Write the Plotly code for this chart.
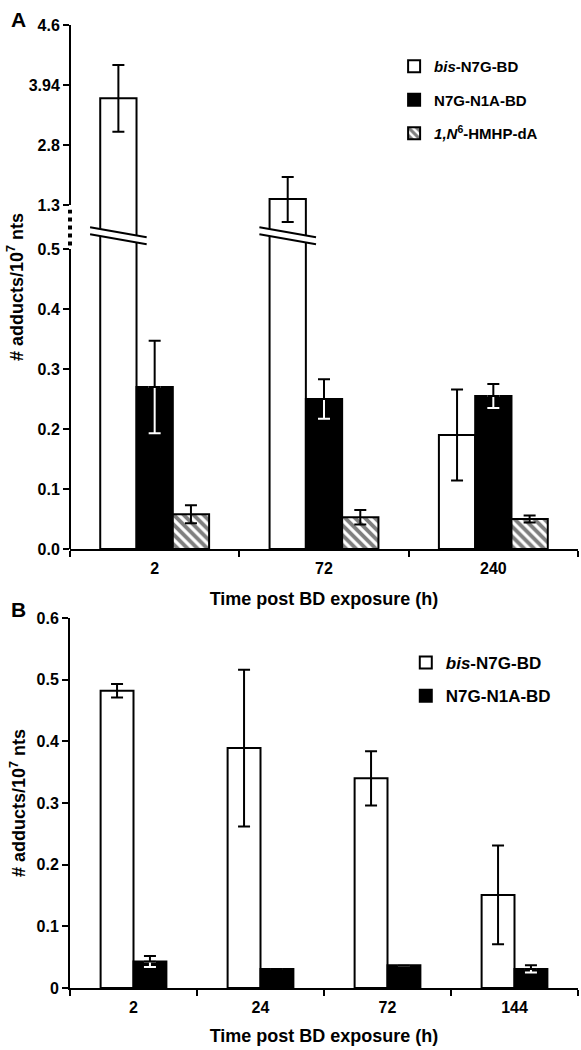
import numpy as np
import plotly.graph_objects as go

# ---------------- Panel A data ----------------
A_TIMES = ["2", "72", "240"]
A_BIS = [3.69, 1.45, 0.19]
A_BIS_ERR_HI = [0.47, 0.55, 0.076]
A_BIS_ERR_LO = [0.64, 0.46, 0.076]
A_N7G = [0.27, 0.25, 0.255]
A_N7G_ERR = [0.077, 0.033, 0.020]
A_HMHP = [0.058, 0.053, 0.050]
A_HMHP_ERR = [0.015, 0.012, 0.006]
A_TICK_VALUES = [0.0, 0.1, 0.2, 0.3, 0.4, 0.5, 1.3, 2.8, 3.94, 4.6]
A_TICK_LABELS = ["0.0", "0.1", "0.2", "0.3", "0.4", "0.5", "1.3", "2.8", "3.94", "4.6"]

# ---------------- Panel B data ----------------
B_TIMES = ["2", "24", "72", "144"]
B_BIS = [0.482, 0.389, 0.340, 0.151]
B_BIS_ERR = [0.011, 0.127, 0.044, 0.080]
B_N7G = [0.043, 0.031, 0.037, 0.031]
B_N7G_ERR = [0.009, 0.0, 0.0, 0.006]
B_TICK_VALUES = [0.0, 0.1, 0.2, 0.3, 0.4, 0.5, 0.6]
B_TICK_LABELS = ["0", "0.1", "0.2", "0.3", "0.4", "0.5", "0.6"]

NAMES = ["<i>bis</i>-N7G-BD", "N7G-N1A-BD", "<i>1,N</i><sup>6</sup>-HMHP-dA"]

# ---------------- segmented (broken) axis scale for panel A ----------------
BREAK_AT = 0.5
GAP = 44 / 600.0
UPPER_STEP = 0.1
lower = [v for v in A_TICK_VALUES if v <= BREAK_AT]
upper = [v for v in A_TICK_VALUES if v > BREAK_AT]
A_TICK_POS = lower + [BREAK_AT + GAP + i * UPPER_STEP for i in range(len(upper))]


def seg(v):
    return np.interp(np.asarray(v, dtype=float), A_TICK_VALUES, A_TICK_POS)


def seg_err(vals, hi, lo):
    vals = np.asarray(vals, float)
    p = seg(vals)
    return p, seg(vals + np.asarray(hi, float)) - p, p - seg(vals - np.asarray(lo, float))


FONT = "Liberation Sans, Arial, sans-serif"
LW = 2
CAP = 6
HATCH = dict(shape="\\", fgcolor="black", bgcolor="white", size=7, solidity=0.55)

fig = go.Figure()

# ---------- Panel A ----------
wA = 0.2143
offA = [-1.5 * wA, -0.5 * wA, 0.5 * wA]

y, ehi, elo = seg_err(A_BIS, A_BIS_ERR_HI, A_BIS_ERR_LO)
fig.add_trace(go.Bar(x=A_TIMES, y=y, width=wA, offset=offA[0], name=NAMES[0],
                     legendgroup="a0", legend="legend",
                     marker=dict(color="white", line=dict(color="black", width=LW)),
                     error_y=dict(type="data", symmetric=False, array=ehi, arrayminus=elo,
                                  color="black", thickness=LW, width=CAP),
                     xaxis="x", yaxis="y"))

y, ehi, elo = seg_err(A_N7G, A_N7G_ERR, A_N7G_ERR)
fig.add_trace(go.Bar(x=A_TIMES, y=y, width=wA, offset=offA[1], name=NAMES[1],
                     legendgroup="a1", legend="legend",
                     marker=dict(color="black", line=dict(color="black", width=LW)),
                     xaxis="x", yaxis="y"))
fig.add_trace(go.Bar(x=A_TIMES, y=y, width=wA, offset=offA[1], showlegend=False,
                     marker=dict(color="rgba(0,0,0,0)", line=dict(width=0)),
                     error_y=dict(type="data", symmetric=False, array=[0] * 3, arrayminus=elo,
                                  color="white", thickness=LW, width=CAP),
                     xaxis="x", yaxis="y", hoverinfo="skip"))
fig.add_trace(go.Bar(x=A_TIMES, y=y, width=wA, offset=offA[1], showlegend=False,
                     marker=dict(color="rgba(0,0,0,0)", line=dict(width=0)),
                     error_y=dict(type="data", symmetric=False, array=ehi, arrayminus=[0] * 3,
                                  color="black", thickness=LW, width=CAP),
                     xaxis="x", yaxis="y", hoverinfo="skip"))

y, ehi, elo = seg_err(A_HMHP, A_HMHP_ERR, A_HMHP_ERR)
fig.add_trace(go.Bar(x=A_TIMES, y=y, width=wA, offset=offA[2], name=NAMES[2],
                     legendgroup="a2", legend="legend",
                     marker=dict(color="white", line=dict(color="black", width=LW), pattern=HATCH),
                     error_y=dict(type="data", symmetric=False, array=ehi, arrayminus=elo,
                                  color="black", thickness=LW, width=CAP),
                     xaxis="x", yaxis="y"))

# ---------- Panel B ----------
wB = 0.259
offB = [-wB, 0.0]
fig.add_trace(go.Bar(x=B_TIMES, y=B_BIS, width=wB, offset=offB[0], name=NAMES[0],
                     legendgroup="b0", legend="legend2",
                     marker=dict(color="white", line=dict(color="black", width=LW)),
                     error_y=dict(type="data", array=B_BIS_ERR, color="black", thickness=LW, width=CAP),
                     xaxis="x2", yaxis="y2"))
fig.add_trace(go.Bar(x=B_TIMES, y=B_N7G, width=wB, offset=offB[1], name=NAMES[1],
                     legendgroup="b1", legend="legend2",
                     marker=dict(color="black", line=dict(color="black", width=LW)),
                     xaxis="x2", yaxis="y2"))
fig.add_trace(go.Bar(x=B_TIMES, y=B_N7G, width=wB, offset=offB[1], showlegend=False,
                     marker=dict(color="rgba(0,0,0,0)", line=dict(width=0)),
                     error_y=dict(type="data", symmetric=False, array=[0] * 4, arrayminus=B_N7G_ERR,
                                  color="white", thickness=LW, width=CAP),
                     xaxis="x2", yaxis="y2", hoverinfo="skip"))
fig.add_trace(go.Bar(x=B_TIMES, y=B_N7G, width=wB, offset=offB[1], showlegend=False,
                     marker=dict(color="rgba(0,0,0,0)", line=dict(width=0)),
                     error_y=dict(type="data", symmetric=False, array=B_N7G_ERR, arrayminus=[0] * 4,
                                  color="black", thickness=LW, width=CAP),
                     xaxis="x2", yaxis="y2", hoverinfo="skip"))

# ---------- shapes: broken y axis and break marks ----------
shapes = []
top = A_TICK_POS[-1]
shapes.append(dict(type="line", xref="x domain", yref="y", x0=0, x1=0, y0=0, y1=BREAK_AT,
                   line=dict(color="black", width=LW)))
shapes.append(dict(type="line", xref="x domain", yref="y", x0=0, x1=0,
                   y0=BREAK_AT + 0.006, y1=BREAK_AT + GAP - 0.008,
                   line=dict(color="black", width=4, dash="dot")))
shapes.append(dict(type="line", xref="x domain", yref="y", x0=0, x1=0, y0=BREAK_AT + GAP, y1=top,
                   line=dict(color="black", width=LW)))

yc = BREAK_AT + 0.3 * GAP
dy = 10 / 600.0
sep = 7 / 600.0
ext = 0.06
for i, v in enumerate(A_BIS):
    if v > BREAK_AT:
        x0 = i + offA[0] - ext
        x1 = i + offA[0] + wA + ext
        ya0, ya1 = yc + dy / 2 + sep / 2, yc - dy / 2 + sep / 2
        yb0, yb1 = ya0 - sep, ya1 - sep
        shapes.append(dict(type="path", xref="x", yref="y",
                           path=f"M{x0},{ya0} L{x1},{ya1} L{x1},{yb1} L{x0},{yb0} Z",
                           fillcolor="white", line=dict(width=0)))
        shapes.append(dict(type="line", xref="x", yref="y", x0=x0, y0=ya0, x1=x1, y1=ya1,
                           line=dict(color="black", width=LW)))
        shapes.append(dict(type="line", xref="x", yref="y", x0=x0, y0=yb0, x1=x1, y1=yb1,
                           line=dict(color="black", width=LW)))

tickfont = dict(family=FONT, size=16, color="black", weight="bold")
titlefont = dict(family=FONT, size=18, color="black", weight="bold")
ytitle = "# adducts/10<sup>7</sup> nts"
xtitle = "Time post BD exposure (h)"

H, W = 1050, 581
ml, mr, mt, mb = 70, 3, 25, 62
ph = H - mt - mb
domA = [(H - mb - 549) / ph, 1.0]
domB = [0.0, (H - mb - 618) / ph]

common_x = dict(showline=True, linewidth=LW, linecolor="black", ticks="outside", ticklen=6,
                tickwidth=LW, tickcolor="black", tickson="boundaries", showgrid=False,
                zeroline=False, tickfont=tickfont, type="category", ticklabelstandoff=4)

fig.update_layout(
    width=W, height=H, margin=dict(l=ml, r=mr, t=mt, b=mb),
    paper_bgcolor="white", plot_bgcolor="white",
    barmode="overlay", showlegend=True,
    xaxis=dict(common_x, domain=[0, 1], anchor="y", range=[-0.5, 2.5],
               title=dict(text=xtitle, font=titlefont, standoff=16)),
    yaxis=dict(domain=domA, anchor="x", range=[0, top], showline=False, showgrid=False,
               zeroline=False, ticks="outside", ticklen=6, tickwidth=LW, tickcolor="black",
               tickmode="array", tickvals=A_TICK_POS, ticktext=A_TICK_LABELS, tickfont=tickfont,
               title=dict(text=ytitle, font=titlefont, standoff=0)),
    xaxis2=dict(common_x, domain=[0, 1], anchor="y2", range=[-0.5, 3.5],
                title=dict(text=xtitle, font=titlefont, standoff=14)),
    yaxis2=dict(domain=domB, anchor="x2", range=[0, 0.6], showline=True, linewidth=LW,
                linecolor="black", showgrid=False, zeroline=False, ticks="outside", ticklen=6,
                tickwidth=LW, tickcolor="black", tickmode="array", tickvals=B_TICK_VALUES,
                ticktext=B_TICK_LABELS, tickfont=tickfont,
                title=dict(text=ytitle, font=titlefont, standoff=6)),
    legend=dict(x=0.638, y=(H - mb - 50) / ph, xanchor="left", yanchor="top",
                font=dict(family=FONT, size=15, color="black", weight="bold"),
                tracegroupgap=11, bgcolor="rgba(0,0,0,0)"),
    legend2=dict(x=0.661, y=(H - mb - 645) / ph, xanchor="left", yanchor="top",
                 font=dict(family=FONT, size=17, color="black", weight="bold"),
                 tracegroupgap=8, bgcolor="rgba(0,0,0,0)"),
    shapes=shapes,
    annotations=[
        dict(text="A", xref="paper", yref="paper", x=(9 - ml) / (W - ml - mr),
             y=(H - mb - 19) / ph, xanchor="left", yanchor="middle", showarrow=False,
             font=dict(family=FONT, size=21, color="black", weight="bold")),
        dict(text="B", xref="paper", yref="paper", x=(9 - ml) / (W - ml - mr),
             y=(H - mb - 609) / ph, xanchor="left", yanchor="middle", showarrow=False,
             font=dict(family=FONT, size=21, color="black", weight="bold")),
    ],
)

fig.write_html("out.html", config={"displayModeBar": False},
               post_script="document.body.style.margin='0px';")
